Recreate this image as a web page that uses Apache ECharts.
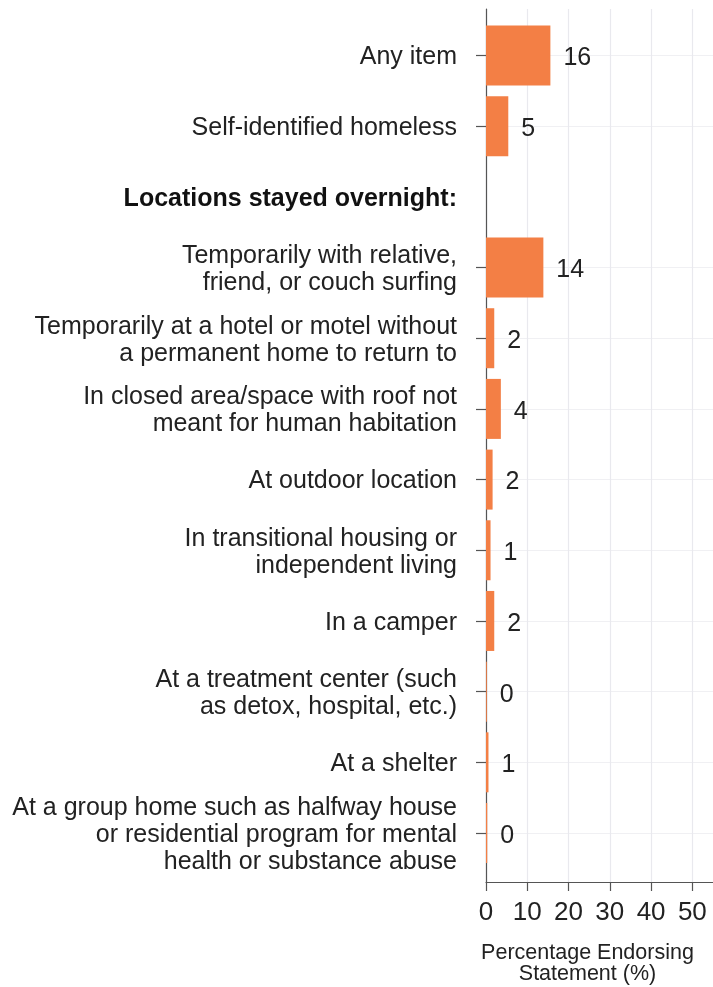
<!DOCTYPE html>
<html>
<head>
<meta charset="utf-8">
<script src="https://cdn.jsdelivr.net/npm/echarts@6/dist/echarts.min.js"></script>
<style>
html,body{margin:0;padding:0;background:#fff;}
#chart{width:713px;height:987px;}
</style>
</head>
<body>
<div id="chart"></div>
<script>
const categories = [
  'Any item',
  'Self-identified homeless',
  'Locations stayed overnight:',
  'Temporarily with relative,\nfriend, or couch surfing',
  'Temporarily at a hotel or motel without\na permanent home to return to',
  'In closed area/space with roof not\nmeant for human habitation',
  'At outdoor location',
  'In transitional housing or\nindependent living',
  'In a camper',
  'At a treatment center (such\nas detox, hospital, etc.)',
  'At a shelter',
  'At a group home such as halfway house\nor residential program for mental\nhealth or substance abuse'
];
const headerIndex = 2;
const values = [15.6, 5.4, null, 13.9, 2.0, 3.6, 1.6, 1.1, 2.0, 0.2, 0.6, 0.3];
const xTicks = [0, 10, 20, 30, 40, 50];
const xMax = 55;
const axisTitle = 'Percentage Endorsing\nStatement (%)';

const FONT = 'Liberation Sans, Arial, sans-serif';
const chart = echarts.init(document.getElementById('chart'), null, {renderer: 'canvas'});
const notHeader = (i) => i !== headerIndex;

chart.setOption({
  animation: false,
  backgroundColor: '#ffffff',
  grid: [
    {left: 486, right: 0, top: 9, bottom: 105, containLabel: false, outerBoundsMode: 'none'},
    {left: 486, right: 0, top: 55.5, height: 777.5, containLabel: false, outerBoundsMode: 'none'}
  ],
  xAxis: [
    {
      gridIndex: 0, type: 'value', min: 0, max: xMax,
      axisLine: {show: true, lineStyle: {color: '#555', width: 1.2}},
      axisTick: {show: true, length: 9, customValues: xTicks, lineStyle: {color: '#555', width: 1.2}},
      axisLabel: {show: true, customValues: xTicks, margin: 18, fontSize: 26, color: '#222', fontFamily: FONT},
      splitLine: {show: true, lineStyle: {color: '#e9e9ee', width: 1.2}},
      name: axisTitle, nameLocation: 'middle', nameGap: 61,
      nameTextStyle: {fontSize: 21.5, lineHeight: 21, color: '#222', fontFamily: FONT, padding: [0, 24, 0, 0]}
    },
    {gridIndex: 1, type: 'value', min: 0, max: xMax, show: false}
  ],
  yAxis: [
    {
      gridIndex: 0, type: 'value', min: 0, max: 1,
      axisLine: {show: true, lineStyle: {color: '#555', width: 1.2}},
      axisTick: {show: false}, axisLabel: {show: false}, splitLine: {show: false}
    },
    {
      gridIndex: 1, type: 'category', inverse: true, boundaryGap: false,
      data: categories,
      axisLine: {show: false},
      axisTick: {show: true, length: 10, interval: (i) => notHeader(i), lineStyle: {color: '#555', width: 1.2}},
      splitLine: {show: true, interval: (i) => notHeader(i), lineStyle: {color: '#f0f0f3', width: 1}},
      axisLabel: {
        interval: 0, margin: 29, fontSize: 25, lineHeight: 27, color: '#222', fontFamily: FONT, align: 'right',
        padding: [4, 0, 0, 0],
        formatter: (v, i) => i === headerIndex ? '{b|' + v + '}' : v,
        rich: {b: {fontWeight: 'bold', fontSize: 25, color: '#111', fontFamily: FONT}}
      }
    }
  ],
  series: [{
    type: 'bar', xAxisIndex: 1, yAxisIndex: 1,
    data: values, barWidth: 60, clip: false,
    itemStyle: {color: '#F37F45'},
    label: {
      show: true, position: 'right', distance: 13, offset: [0, 3],
      fontSize: 25, color: '#222', fontFamily: FONT,
      formatter: (p) => p.value == null ? '' : String(Math.round(p.value))
    }
  }]
});
</script>
</body>
</html>
